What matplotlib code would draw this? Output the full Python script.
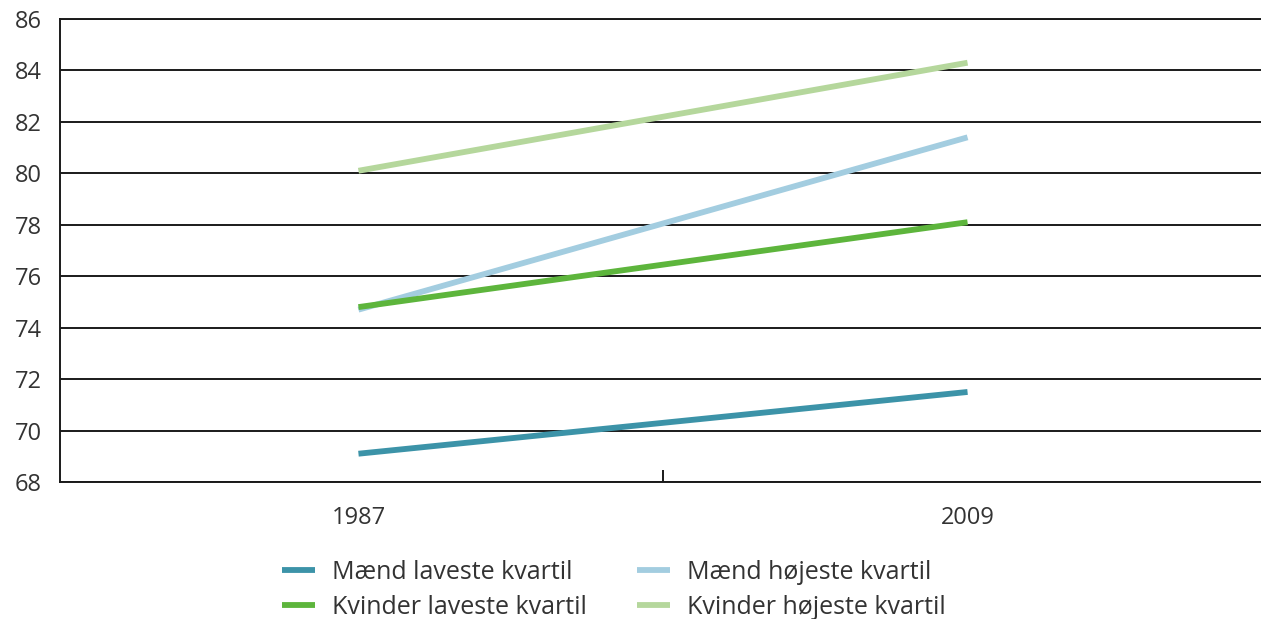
import matplotlib
matplotlib.use("Agg")
import matplotlib.pyplot as plt

plt.rcParams["font.family"] = ["Open Sans", "DejaVu Sans"]

# ── Data ──────────────────────────────────────────────────────────────────────
YEARS = ["1987", "2009"]
MAEND_LAV = [69.1, 71.5]
MAEND_HOJ = [74.7, 81.4]
KVINDER_LAV = [74.8, 78.1]
KVINDER_HOJ = [80.1, 84.3]
Y_TICKS = list(range(68, 87, 2))

SERIES = [
    ("Mænd laveste kvartil", MAEND_LAV, "#3c93a8"),
    ("Kvinder laveste kvartil", KVINDER_LAV, "#5db53c"),
    ("Mænd højeste kvartil", MAEND_HOJ, "#a3cde0"),
    ("Kvinder højeste kvartil", KVINDER_HOJ, "#b5d79c"),
]

fig = plt.figure(figsize=(12.61, 6.19), dpi=100)
ax = fig.add_axes([60 / 1261, 1 - 482 / 619, 1206 / 1261, 463 / 619])

x = list(range(len(YEARS)))
# draw the back series first so the darker green sits on top of the light blue
for label, vals, color in [SERIES[3], SERIES[2], SERIES[1], SERIES[0]]:
    ax.plot(x, vals, color=color, lw=4.2, solid_capstyle="butt", label=label, zorder=3)

ax.set_xlim(-0.49, 1.49)
ax.set_ylim(68, 86)
ax.set_yticks(Y_TICKS)
ax.yaxis.grid(True, color="#1a1a1a", lw=1.4, zorder=1)
ax.tick_params(axis="y", length=0, pad=13, labelsize=17, labelcolor="#333333")

# middle tick mark without label, year labels as minor ticks
ax.set_xticks([0.5])
ax.set_xticklabels([""])
ax.tick_params(axis="x", which="major", direction="in", length=9, width=1.4, color="#1a1a1a")
ax.set_xticks(x, minor=True)
ax.set_xticklabels(YEARS, minor=True)
ax.tick_params(axis="x", which="minor", length=0, pad=17, labelsize=17, labelcolor="#333333")

for side in ["left", "top", "bottom"]:
    ax.spines[side].set_color("#1a1a1a")
    ax.spines[side].set_linewidth(1.4)
ax.spines["right"].set_visible(False)

handles = {h.get_label(): h for h in ax.get_lines()}
order = [s[0] for s in SERIES]
fig.legend([handles[n] for n in order], order, ncol=2, frameon=False,
           loc="center", bbox_to_anchor=(0.487, 0.047), fontsize=18,
           handlelength=1.3, handletextpad=0.7, columnspacing=2.0,
           labelspacing=0.4, labelcolor="#333333")

fig.savefig("out.png", dpi=100)
